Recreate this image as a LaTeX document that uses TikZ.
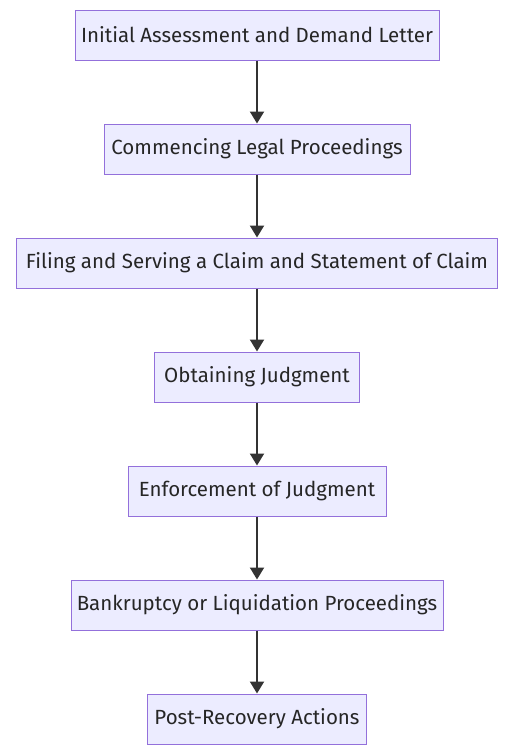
\documentclass[tikz,border=0pt]{standalone}
\usepackage{fontspec}
\setmainfont{Fira Sans}
\usetikzlibrary{arrows.meta}
\definecolor{boxfill}{HTML}{ECECFF}
\definecolor{boxline}{HTML}{9370DB}
\definecolor{arrowline}{HTML}{333333}
\begin{document}
\begin{tikzpicture}[x=1pt,y=1pt]

      \useasboundingbox (0,0) rectangle (514,-755);

      \begin{scope}[every node/.style={rectangle,draw=boxline,fill=boxfill,line width=1pt,
          minimum height=50pt,inner sep=0pt,text=black!85,font=\fontsize{20.5}{24}\selectfont}]
        \node[minimum width=364pt] (1) at (257,-35)  {Initial Assessment and Demand Letter};
        \node[minimum width=306pt] (2) at (257,-149) {Commencing Legal Proceedings};
        \node[minimum width=481pt] (3) at (257,-263) {Filing and Serving a Claim and Statement of Claim};
        \node[minimum width=205pt] (4) at (257,-377) {Obtaining Judgment};
        \node[minimum width=258pt] (5) at (257,-491) {Enforcement of Judgment};
        \node[minimum width=372pt] (6) at (257,-605) {Bankruptcy or Liquidation Proceedings};
        \node[minimum width=219pt] (7) at (257,-719) {Post-Recovery Actions};
      \end{scope}

      \begin{scope}[every edge/.style={draw=arrowline,line width=2pt,-{Triangle[length=12pt,width=14pt]}}]
        \path (1) edge (2);
        \path (2) edge (3);
        \path (3) edge (4);
        \path (4) edge (5);
        \path (5) edge (6);
        \path (6) edge (7);
      \end{scope}

    \end{tikzpicture}
\end{document}
